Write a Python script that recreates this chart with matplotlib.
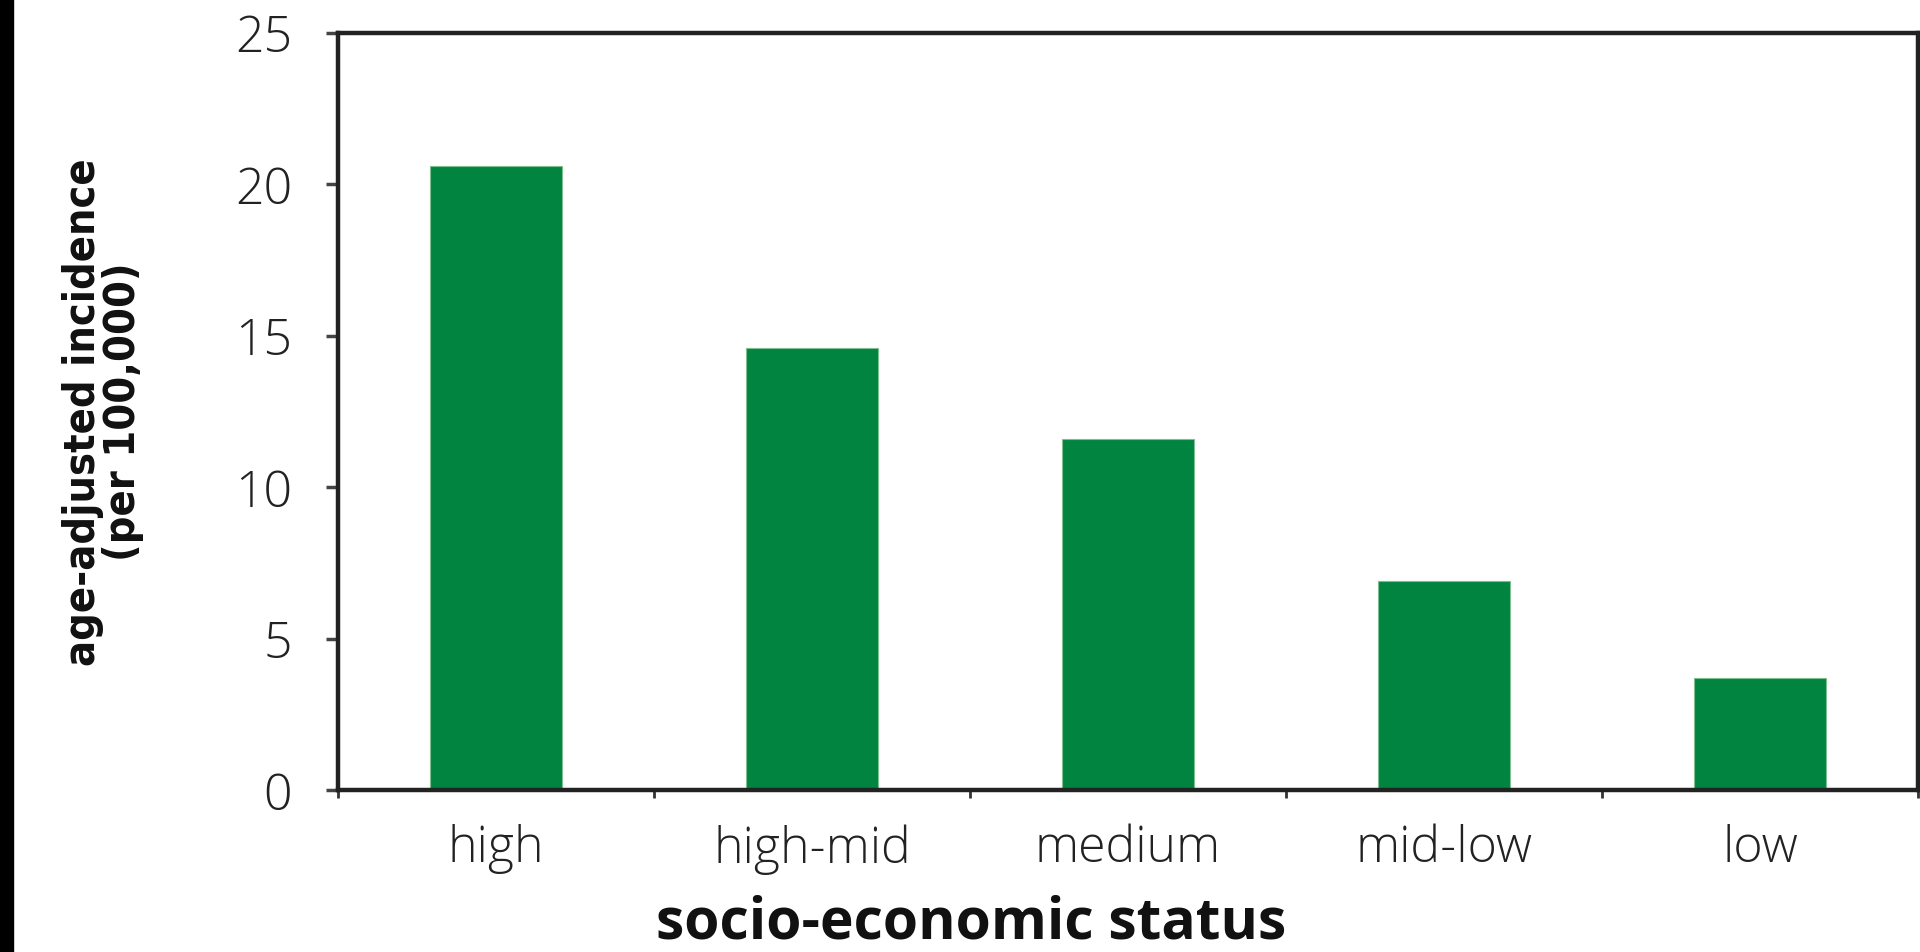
import matplotlib
matplotlib.use('Agg')
import matplotlib.pyplot as plt
from matplotlib.patches import Rectangle

# data
categories = ['high', 'high-mid', 'medium', 'mid-low', 'low']
incidence = [20.6, 14.6, 11.6, 6.9, 3.7]
y_ticks = [0, 5, 10, 15, 20, 25]

bar_color = '#00843f'
spine_color = '#222222'

fig = plt.figure(figsize=(19.2, 9.53), dpi=100)
ax = fig.add_axes([338/1920, 1 - 791/953, (1918 - 338)/1920, (791 - 33.5)/953])

x = list(range(len(categories)))
ax.bar(x, incidence, width=0.42, color=bar_color, edgecolor='#7fbf8f', linewidth=0.8)

ax.set_xlim(-0.5, len(categories) - 0.5)
ax.set_ylim(0, 25)

tick_font = dict(family=['Open Sans', 'DejaVu Sans'], weight='light', size=36,
                 color='#222222')

ax.set_yticks(y_ticks)
ax.set_yticklabels([str(v) for v in y_ticks], **tick_font)
ax.set_xticks(x)
ax.set_xticklabels(categories, **tick_font)
ax.set_xticks([i - 0.5 for i in range(len(categories) + 1)], minor=True)

ax.tick_params(axis='y', direction='out', length=9, width=2.5, color='#444444', pad=24)
ax.tick_params(axis='x', which='major', length=0, pad=24)
ax.tick_params(axis='x', which='minor', direction='out', length=6, width=2, color='#333333')

for s in ax.spines.values():
    s.set_color(spine_color)
    s.set_linewidth(3.2)

# axis titles
fig.text(103/1920, 1 - 412/953, 'age-adjusted incidence\n(per 100,000)',
         rotation=90, ha='center', va='center', multialignment='center',
         family='DejaVu Sans', stretch='condensed', weight='bold',
         size=31, linespacing=0.95, color='#111111')
fig.text(971/1920, 1 - 924/953, 'socio-economic status',
         ha='center', va='center', family=['Open Sans', 'DejaVu Sans'],
         weight='bold', size=41, color='#111111')

# black strip at the left image edge
fig.patches.append(Rectangle((0, 0), 13/1920, 1, transform=fig.transFigure,
                             color='black', zorder=0))

fig.savefig('out.png', dpi=100)
